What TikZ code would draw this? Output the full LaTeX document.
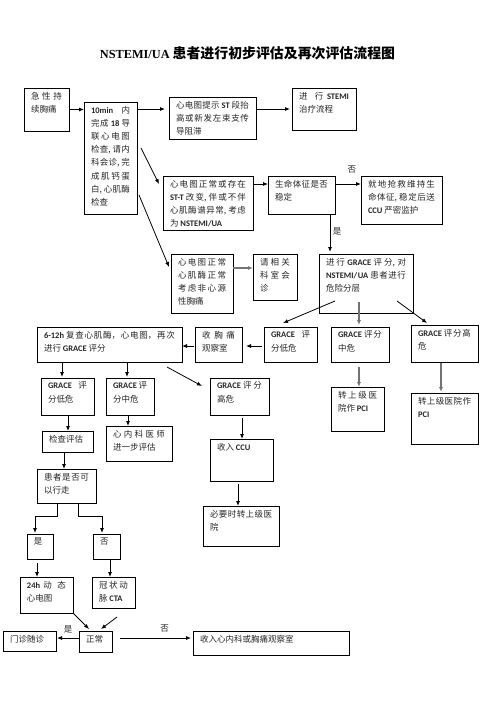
\documentclass[tikz,border=0pt]{standalone}
\usepackage{fontspec}
\setmainfont{Noto Sans CJK SC}
\newfontfamily\latfont{Carlito}
\newfontfamily\titlefont{Liberation Serif}
\usetikzlibrary{arrows.meta,calc}
\XeTeXlinebreaklocale "zh"
\XeTeXlinebreakskip=0pt plus 4pt
\XeTeXlinebreakpenalty=10000
\hbadness=10000
\hfuzz=4pt
\newcommand\latx[1]{{\latfont\bfseries #1}}
\newcommand\boxfont{\fontsize{8.5}{13.2}\selectfont\color{black!85}}
\tikzset{
  box/.style={draw, line width=0.9pt, anchor=north west, inner xsep=7pt, inner ysep=4pt, outer sep=0pt},
  arr/.style={-{Latex[length=5pt,width=4pt]}, line width=0.8pt},
  arrg/.style={arr, draw=black!55, line width=1.4pt},
  lbl/.style={font=\fontsize{8.5}{10}\selectfont, inner sep=0pt, text=black!85}
}
\newcommand\mybox[6]{%
  \pgfmathsetmacro\bxw{#4-#2-14}%
  \pgfmathsetmacro\bxh{#5-#3-8}%
  \node[box] (#1) at (#2,#3) {\parbox[c][\bxh pt][t]{\bxw pt}{\boxfont #6}};%
}
\begin{document}
\begin{tikzpicture}[x=1pt,y=-1pt]
\fill[white] (0,0) rectangle (496,702);
\useasboundingbox (0,0) rectangle (496,702);

\node[anchor=base] (title) at (247.5,58) {\bfseries{\titlefont\fontsize{12.3}{15}\selectfont NSTEMI/UA}\hspace{3pt}{\fontsize{13.9}{16}\selectfont 患者进行初步评估及再次评估流程图}};

\mybox{A}{24}{88}{69}{131}{急性持\linebreak 续胸痛}
\mybox{B}{84}{102}{137}{214}{\latx{10min} 内\linebreak 完成 \latx{18} 导\linebreak 联心电图\linebreak 检查, 请内\linebreak 科会诊, 完\linebreak 成肌钙蛋\linebreak 白, 心肌酶\linebreak 检查}
\mybox{C}{169}{97}{256}{139}{心电图提示 \latx{ST} 段抬\linebreak 高或新发左束支传\linebreak 导阻滞}
\mybox{D}{292}{88}{356}{130}{进行 \latx{STEMI}\linebreak 治疗流程}
\mybox{E}{163}{176}{253}{230}{心电图正常或存在\linebreak \latx{ST-T} 改变, 伴或不伴\linebreak 心肌酶谱异常, 考虑\linebreak 为 \latx{NSTEMI/UA}}
\mybox{F}{268}{176}{335}{214}{生命体征是否\linebreak 稳定}
\mybox{G}{361}{176}{442}{224}{就地抢救维持生\linebreak 命体征, 稳定后送\linebreak \latx{CCU} 严密监护}
\mybox{H}{171}{254}{233}{313}{心电图正常\linebreak 心肌酶正常\linebreak 考虑非心源\linebreak 性胸痛}
\mybox{I}{253}{254}{297}{300}{请相关\linebreak 科室会\linebreak 诊}
\mybox{J}{319}{254}{413}{313}{进行 \latx{GRACE} 评分, 对\linebreak \latx{NSTEMI/UA} 患者进行\linebreak 危险分层}
\mybox{K}{264}{327}{317}{362}{\latx{GRACE} 评\linebreak 分低危}
\mybox{L}{331}{327}{389}{362}{\latx{GRACE} 评分\linebreak 中危}
\mybox{M}{411}{325}{478}{362}{\latx{GRACE} 评分高\linebreak 危}
\mybox{N}{195}{327}{242}{362}{收胸痛\linebreak 观察室}
\mybox{O}{37}{327}{182}{362}{\latx{6-12h} 复查心肌酶，心电图，再次\linebreak 进行 \latx{GRACE} 评分}
\mybox{P}{41}{378}{94}{415}{\latx{GRACE} 评\linebreak 分低危}
\mybox{Q}{106}{378}{154}{415}{\latx{GRACE} 评\linebreak 分中危}
\mybox{R}{210}{378}{269}{415}{\latx{GRACE} 评分\linebreak 高危}
\mybox{S}{42}{431}{93}{452}{检查评估}
\mybox{T}{106}{426}{172}{461}{心内科医师\linebreak 进一步评估}
\mybox{U}{37}{469}{96}{503}{患者是否可\linebreak 以行走}
\mybox{V}{210}{439}{273}{481}{收入 \latx{CCU}}
\mybox{W}{203}{506}{279}{546}{必要时转上级医\linebreak 院}
\mybox{X}{331}{387}{384}{431}{转上级医\linebreak 院作 \latx{PCI}}
\mybox{Y}{411}{393}{478}{444}{转上级医院作\linebreak \latx{PCI}}
\mybox{Z}{27}{534}{53}{559}{是}
\mybox{AA}{93}{534}{120}{559}{否}
\mybox{AB}{20}{577}{73}{613}{\latx{24h} 动态\linebreak 心电图}
\mybox{AC}{92}{577}{135}{608}{冠状动\linebreak 脉 \latx{CTA}}
\mybox{AD}{79}{631}{112}{652}{正常}
\mybox{AE}{3}{631}{56}{651}{门诊随诊}
\mybox{AF}{193}{631}{349}{655}{收入心内科或胸痛观察室}

\draw[arr] (A.east) -- (A.east -| B.west);
\draw[arr,shorten >=4pt] ($(B.north east)+(0,7)$) -- ($(C.north west)+(0,12)$);
\draw[arr,shorten >=2pt] (D.west -| C.east) -- (D.west);
\draw[arr] ($(B.north east)+(4,46)$) -- ($(E.north west)+(-4,8)$);
\draw[arr] ($(B.north east)+(2,93)$) -- ($(H.north west)+(-2,13)$);
\draw[arr] ($(E.north east)+(0,8)$) -- ($(F.north west)+(0,8)$);
\draw[arr] ($(F.north east)+(0,8)$) -- node[lbl,pos=0.65,yshift=14pt] (n1) {否} ($(G.north west)+(0,8)$);
\draw[arr] ($(F.south east)+(-5,0)$) -- node[lbl,pos=0.47,xshift=7pt] (y1) {是} ($(J.north west)+(11,-2)$);
\draw[arrg] ($(H.north east)+(0,14)$) -- ($(I.north west)+(0,14)$);
\draw[arr] ($(J.south west)+(16,-12)$) -- ($(K.north west)+(19,-4)$);
\draw[arrg] ($(J.south west)+(40,-11)$) -- ($(L.north west)+(28,-2)$);
\draw[arr] ($(J.south west)+(78,-12)$) -- ($(M.north west)+(16,-2)$);
\draw[arr] ($(K.north west)+(-2,19)$) -- ($(N.north east)+(4,19)$);
\draw[arr] ($(N.north west)+(-1,19)$) -- ($(O.north east)+(0,19)$);
\draw[arr] ($(O.south west)+(25,0)$) -- ($(P.north west)+(21,-1)$);
\draw[arr] ($(O.south west)+(90,0)$) -- ($(Q.north west)+(21,-1)$);
\draw[arr] ($(O.south east)+(-15,5)$) -- ($(R.north west)+(-8,8)$);
\draw[arr] ($(P.south west)+(27,0)$) -- ($(S.north west)+(26,0)$);
\draw[arr] ($(Q.south west)+(22,0)$) -- ($(T.north west)+(22,0)$);
\draw[arr] ($(R.south west)+(32,3)$) -- ($(V.north west)+(32,0)$);
\draw[arr] ($(S.south west)+(22,0)$) -- ($(U.north west)+(27,0)$);
\draw[arr] ($(U.south west)+(20,0)$) -- ++(0,13) -| ($(Z.north west)+(8,-1)$);
\draw[arr] ($(U.south west)+(41,0)$) -- ++(0,13) -| ($(AA.north west)+(9,-1)$);
\draw[arr] ($(V.south west)+(28,3)$) -- ($(W.north west)+(35,0)$);
\draw[arrg] ($(L.south west)+(28,5)$) -- ($(X.north west)+(28,0)$);
\draw[arrg] ($(M.south west)+(30,1)$) -- ($(Y.north west)+(30,-1)$);
\draw[arr] ($(Z.south west)+(10,4)$) -- ($(AB.north west)+(17,0)$);
\draw[arr] ($(AA.south west)+(17,0)$) -- ($(AC.north west)+(18,0)$);
\draw[arr] (AB.south east) -- ($(AD.north west)+(10,-2)$);
\draw[arr] ($(AC.south west)+(25,9)$) -- ($(AD.north west)+(22,-2)$);
\draw[arr] ($(AD.north west)+(0,7)$) -- node[lbl,pos=0.5,yshift=9pt] (y2) {是} ($(AE.north east)+(1,7)$);
\draw[arr] ($(AD.north east)+(8,7)$) -- node[lbl,pos=0.63,yshift=9pt] (n2) {否} ($(AF.north west)+(-2,7)$);
\end{tikzpicture}
\end{document}
